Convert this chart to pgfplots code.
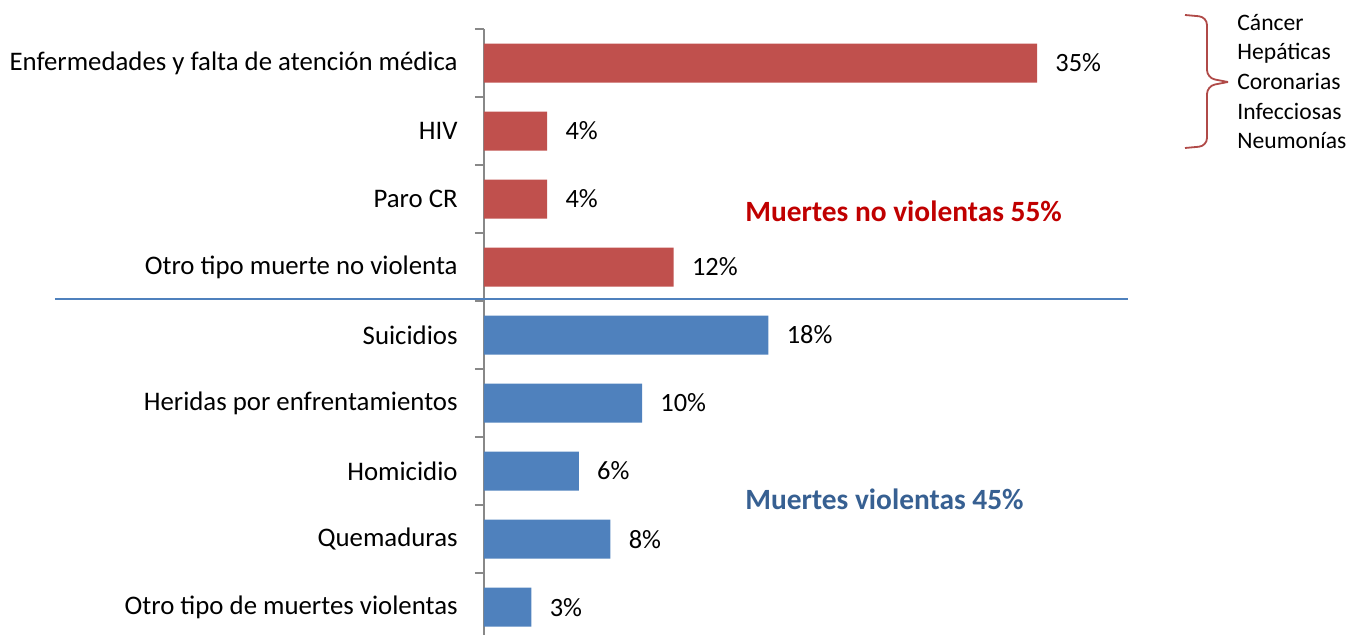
\documentclass[border=0pt]{standalone}
\usepackage{pgfplots}
\pgfplotsset{compat=1.18}
\usepackage{fontspec}
\setmainfont{Carlito}
\definecolor{barred}{HTML}{C0504D}
\definecolor{barblue}{HTML}{4F81BD}
\definecolor{txtred}{HTML}{C00000}
\definecolor{txtblue}{HTML}{376092}
\definecolor{bracered}{HTML}{B04A48}
\definecolor{axisgray}{HTML}{888888}

\begin{document}
\begin{tikzpicture}
\begin{axis}[
  scale only axis, width=433pt, height=303pt,
  xmin=0, xmax=54.81, ymin=-0.5, ymax=8.41, y dir=reverse,
  axis x line=none, axis y line*=left,
  y axis line style={axisgray, line width=0.8pt},
  ytick={0,...,8},
  yticklabels={Enfermedades y falta de atención médica, HIV, Paro CR,
    Otro tipo muerte no violenta, Suicidios, Heridas por enfrentamientos,
    Homicidio, Quemaduras, Otro tipo de muertes violentas},
  minor ytick={-0.5,0.5,...,7.5},
  major tick length=0pt, minor tick length=4.5pt, tick align=outside,
  minor tick style={axisgray, line width=0.8pt},
  yticklabel style={font=\fontsize{13.4}{15}\selectfont, anchor=east, inner sep=0pt, xshift=-13pt},
  xbar, bar width=19.5pt, bar shift=0pt,
  nodes near coords={\pgfmathprintnumber{\pgfplotspointmeta}\%},
  nodes near coords style={font=\fontsize{13.2}{15}\selectfont, anchor=west, inner sep=0pt, xshift=9pt,
    /pgf/number format/assume math mode=true},
  clip=false,
]
\addplot[fill=barred, draw=none] coordinates {(35,0) (4,1) (4,2) (12,3)};
\addplot[fill=barblue, draw=none] coordinates {(18,4) (10,5) (6,6) (8,7) (3,8)};
\coordinate (TL) at (axis cs:{-484/15.8},{-63/68});
\end{axis}
\begin{scope}[shift={(TL)}, x=0.5pt, y=-0.5pt]
  \path (0,0) rectangle (1350,635);
  \draw[barblue, line width=1pt] (55,299) -- (1128,299);
  \node[anchor=west, inner sep=0pt, text=txtred, font=\fontsize{14.7}{17}\selectfont\bfseries] at (745,211) {Muertes no violentas 55\%};
  \node[anchor=west, inner sep=0pt, text=txtblue, font=\fontsize{14.7}{17}\selectfont\bfseries] at (745,499) {Muertes violentas 45\%};
  \draw[bracered, line width=0.9pt, rounded corners=4pt]
    (1185,15) -- (1207,17) -- (1207,78) -- (1228,82);
  \draw[bracered, line width=0.9pt, rounded corners=4pt]
    (1185,148) -- (1207,146) -- (1207,86) -- (1228,82);
  \foreach \t/\yy in {Cáncer/31, Hepáticas/60, Coronarias/90, Infecciosas/120, Neumonías/149}
    \node[anchor=base west, inner sep=0pt, font=\fontsize{11.8}{14}\selectfont] at (1237,\yy) {\t};
\end{scope}
\end{tikzpicture}
\end{document}
